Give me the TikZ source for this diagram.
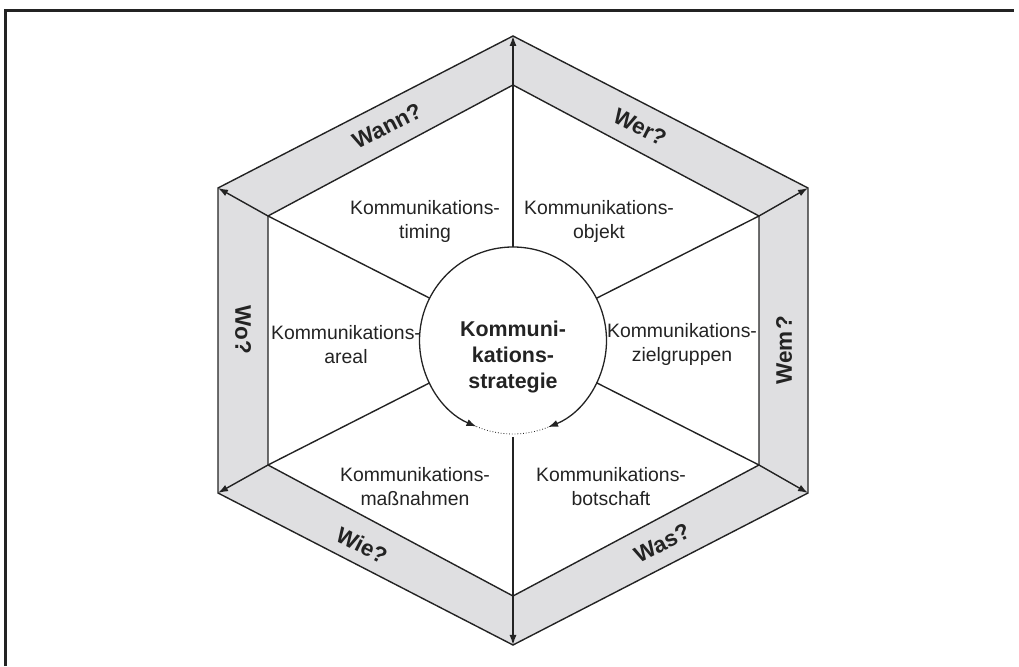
\documentclass[tikz,border=0pt]{standalone}
\usepackage{fontspec}
\setmainfont{Liberation Sans}
\usetikzlibrary{arrows.meta,calc}
\definecolor{bandgray}{RGB}{223,223,225}
\definecolor{ink}{RGB}{35,35,35}
\begin{document}
\begin{tikzpicture}[x=1pt,y=1pt,
  hexline/.style={draw=ink,line width=1.4pt,line join=miter},
  spoke/.style={draw=ink,line width=1.4pt,-{Latex[length=10pt,width=7pt]}},
  field/.style={font=\fontsize{19.4}{24}\selectfont,align=center,text=ink,inner sep=0pt},
  question/.style={font=\bfseries\fontsize{22.5}{26}\selectfont,text=ink,inner sep=0pt},
  core/.style={font=\bfseries\fontsize{21.4}{26}\selectfont,align=center,text=ink,inner sep=0pt}]
\useasboundingbox (0,0) rectangle (1019,666);

% frame
\draw[ink,line width=3pt] (5.5,0) -- (5.5,655.5) -- (1014,655.5);

% centre
\coordinate (C) at (513,325.5);
% outer hexagon
\coordinate (oT)  at (513,630);
\coordinate (oUR) at (808,478);
\coordinate (oLR) at (808,173);
\coordinate (oB)  at (513,21);
\coordinate (oLL) at (218,173);
\coordinate (oUL) at (218,478);
% inner hexagon
\coordinate (iT)  at (513,581);
\coordinate (iUR) at (759,450);
\coordinate (iLR) at (759,201);
\coordinate (iB)  at (513,70);
\coordinate (iLL) at (268,201);
\coordinate (iUL) at (268,450);

% grey band
\fill[bandgray,even odd rule]
  (oT) -- (oUR) -- (oLR) -- (oB) -- (oLL) -- (oUL) -- cycle
  (iT) -- (iUR) -- (iLR) -- (iB) -- (iLL) -- (iUL) -- cycle;
\draw[hexline] (oT) -- (oUR) -- (oLR) -- (oB) -- (oLL) -- (oUL) -- cycle;
\draw[hexline] (iT) -- (iUR) -- (iLR) -- (iB) -- (iLL) -- (iUL) -- cycle;

% spokes from the circle to the outer corners
\draw[spoke] ($(C)!93.5pt!(iT)$)  -- (iT)  -- (oT);
\draw[spoke] ($(C)!93.5pt!(iUR)$) -- (iUR) -- (oUR);
\draw[spoke] ($(C)!93.5pt!(iLR)$) -- (iLR) -- (oLR);
\draw[spoke] ($(C)!97pt!(iB)$)    -- (iB)  -- (oB);
\draw[spoke] ($(C)!93.5pt!(iLL)$) -- (iLL) -- (oLL);
\draw[spoke] ($(C)!93.5pt!(iUL)$) -- (iUL) -- (oUL);

% central circle: two arrowed arcs and a dotted gap
\draw[ink,line width=1.3pt,-{Latex[length=10pt,width=7pt]}]
  (C) ++(90:93.5) arc[start angle=90,end angle=247,radius=93.5];
\draw[ink,line width=1.3pt,-{Latex[length=10pt,width=7pt]}]
  (C) ++(90:93.5) arc[start angle=90,end angle=-68,radius=93.5];
\draw[ink,line width=0.8pt,dotted]
  (C) ++(247:93.5) arc[start angle=247,end angle=292,radius=93.5];

\node[core] (strategy) at (513,309) {Kommuni-\\kations-\\strategie};

% fields
\node[field] (timing)   at (425,445) {Kommunikations-\\timing};
\node[field] (objekt)   at (599,445) {Kommunikations-\\objekt};
\node[field] (areal)    at (346,321) {Kommunikations-\\areal};
\node[field] (ziel)     at (682,322) {Kommunikations-\\zielgruppen};
\node[field] (massn)    at (415,179) {Kommunikations-\\maßnahmen};
\node[field] (botsch)   at (611,179) {Kommunikations-\\botschaft};

% questions in the band
\node[question,rotate=27]  (wann) at (387,540) {Wann?};
\node[question,rotate=-27] (wer)  at (640,539) {Wer?};
\node[question,rotate=-90] (wo)   at (243,336) {Wo?};
\node[question,rotate=90]  (wem)  at (784,316) {Wem\kern2pt?};
\node[question,rotate=27]  (was)  at (662,123) {Was?};
\node[question,rotate=-27] (wie)  at (362,121) {Wie?};
\end{tikzpicture}
\end{document}
